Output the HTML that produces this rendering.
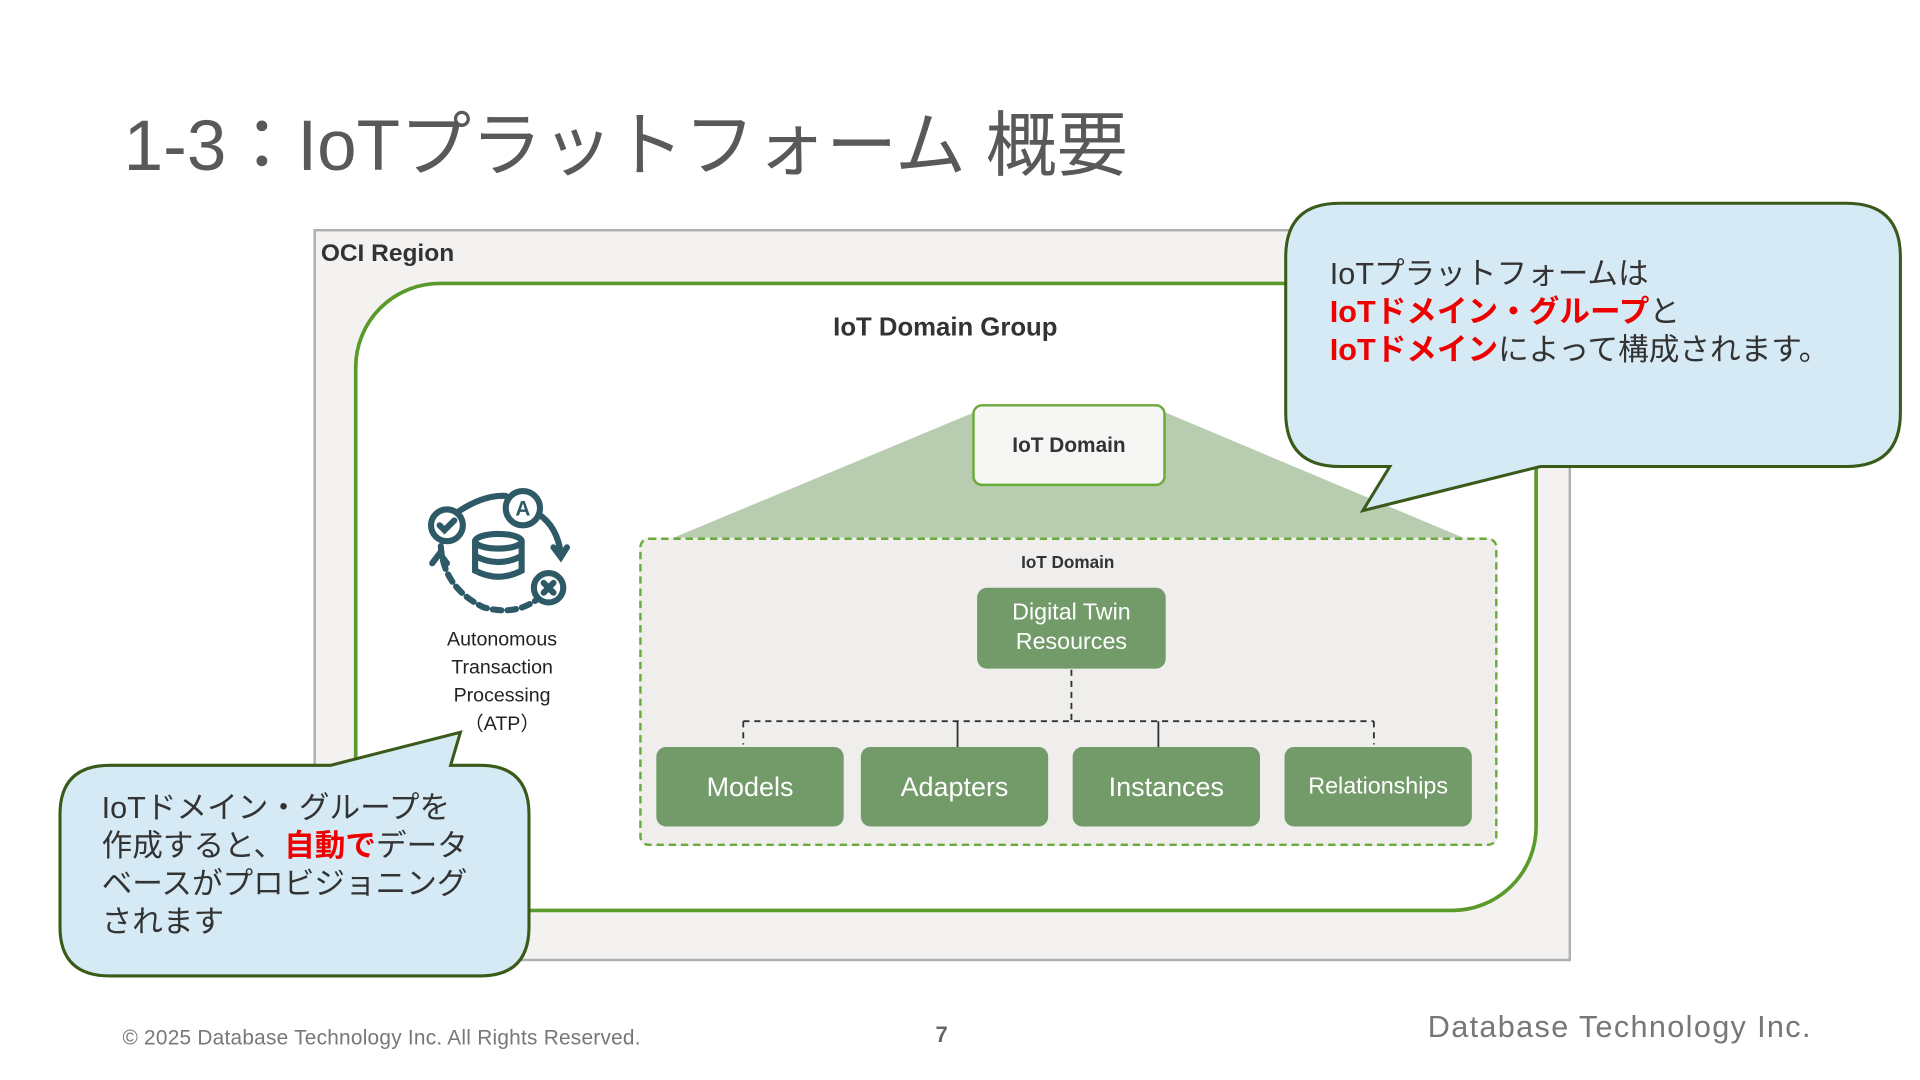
<!DOCTYPE html>
<html><head><meta charset="utf-8"><style>
html,body{margin:0;padding:0;background:#fff;width:1920px;height:1080px;overflow:hidden}
#w{position:absolute;left:0;top:0;width:1568px;height:882px;transform:scale(1.22449);transform-origin:0 0;font-family:"Liberation Sans","Noto Sans CJK JP",sans-serif}
.a{position:absolute}
.g{background:#739b6a;border-radius:8px;color:#fff;display:flex;align-items:center;justify-content:center;text-align:center}
</style></head><body><div id="w">
<div class="a" style="left:101px;top:72px;font-size:58px;color:#595959;white-space:nowrap">1-3：IoTプラットフォーム 概要</div>

<div class="a" style="left:256px;top:187px;width:1023px;height:594px;border:2px solid #b0b0b0;background:#f3f2f0"></div>
<div class="a" style="left:262px;top:196px;font-size:20px;font-weight:bold;color:#333">OCI Region</div>
<div class="a" style="left:289px;top:230px;width:961px;height:509px;border:3px solid #5a9a2a;border-radius:70px;background:#fff"></div>
<div class="a" style="left:572px;top:256px;width:400px;text-align:center;font-size:21px;font-weight:bold;color:#333">IoT Domain Group</div>

<svg class="a" style="left:0;top:0" width="1568" height="882">
<polygon points="548,440 795,337 952,337 1197,440" fill="#b8cdb0"/>
</svg>
<div class="a" style="left:794px;top:330px;width:154px;height:63px;border:2px solid #6aaa3a;border-radius:8px;background:#f6f6f4;display:flex;align-items:center;justify-content:center;font-size:17px;font-weight:bold;color:#333">IoT Domain</div>

<div class="a" style="left:522px;top:439px;width:697px;height:248px;border:2px dashed #6aaa3a;border-radius:8px;background:#efeeec"></div>
<div class="a" style="left:772px;top:451px;width:200px;text-align:center;font-size:14px;font-weight:bold;color:#333">IoT Domain</div>
<div class="a g" style="left:798px;top:480px;width:154px;height:66px;font-size:19px;line-height:24px">Digital Twin<br>Resources</div>

<svg class="a" style="left:0;top:0" width="1568" height="882">
<g stroke="#333" stroke-width="1.5" fill="none">
<path d="M875 547V589M607 589H1122M607 589V608M1122 589V608" stroke-dasharray="5,4"/>
<path d="M782 589V610M946 589V610"/>
</g>
<g stroke="#2d5a66" stroke-width="5" fill="none" stroke-linecap="round">
<circle cx="365" cy="429" r="13"/><path d="M359 429l4 4 8-8"/>
<circle cx="448" cy="480" r="12"/><path d="M444 476l8 8M452 476l-8 8"/>
<circle cx="427" cy="415" r="14"/>
<path d="M374 418Q395 404 413 405"/>
<path d="M440 420Q455 430 458 452M452 447l6 8 5-8"/>
<path d="M360 446Q362 480 395 496Q420 503 438 490" stroke-dasharray="7,5"/>
<path d="M353 460l6-8 6 8"/>
<ellipse cx="407" cy="442" rx="19" ry="6"/>
<path d="M388 442v24q19 10 38 0v-24M388 454q19 10 38 0"/>
</g>
<text x="427" y="421" font-size="17" font-weight="bold" fill="#2d5a66" text-anchor="middle" font-family="Liberation Sans">A</text>
</svg>
<div class="a" style="left:340px;top:511px;width:140px;text-align:center;font-size:16px;line-height:23px;color:#222">Autonomous<br>Transaction<br>Processing<br>（ATP）</div>

<div class="a g" style="left:536px;top:610px;width:153px;height:65px;font-size:22px">Models</div>
<div class="a g" style="left:703px;top:610px;width:153px;height:65px;font-size:22px">Adapters</div>
<div class="a g" style="left:876px;top:610px;width:153px;height:65px;font-size:22px">Instances</div>
<div class="a g" style="left:1049px;top:610px;width:153px;height:65px;font-size:19px">Relationships</div>

<svg class="a" style="left:0;top:0" width="1568" height="882">
<g fill="#d5eaf5" stroke="#3a5a1a" stroke-width="2.5">
<path d="M1094 166H1508Q1552 166 1552 210V337Q1552 381 1508 381H1258L1113 417L1135 381H1094Q1050 381 1050 337V210Q1050 166 1094 166Z"/>
<path d="M90 625H270L376 598L368 625H392Q432 625 432 665V757Q432 797 392 797H90Q49 797 49 757V665Q49 625 90 625Z"/>
</g>
</svg>
<div class="a" style="left:1086px;top:209px;font-size:25px;line-height:31px;color:#333;white-space:nowrap">IoTプラットフォームは<br><b style="color:#e00">IoTドメイン・グループ</b>と<br><b style="color:#e00">IoTドメイン</b>によって構成されます。</div>
<div class="a" style="left:83px;top:645px;font-size:25px;line-height:31px;color:#333;white-space:nowrap">IoTドメイン・グループを<br>作成すると、<b style="color:#e00">自動で</b>データ<br>ベースがプロビジョニング<br>されます</div>

<div class="a" style="left:100px;top:838px;font-size:17px;color:#777;letter-spacing:0.2px">© 2025 Database Technology Inc. All Rights Reserved.</div>
<div class="a" style="left:764px;top:835px;font-size:18px;font-weight:bold;color:#666">7</div>
<div class="a" style="left:1166px;top:825px;font-size:25px;color:#777;letter-spacing:1.1px">Database Technology Inc.</div>
</div></body></html>
